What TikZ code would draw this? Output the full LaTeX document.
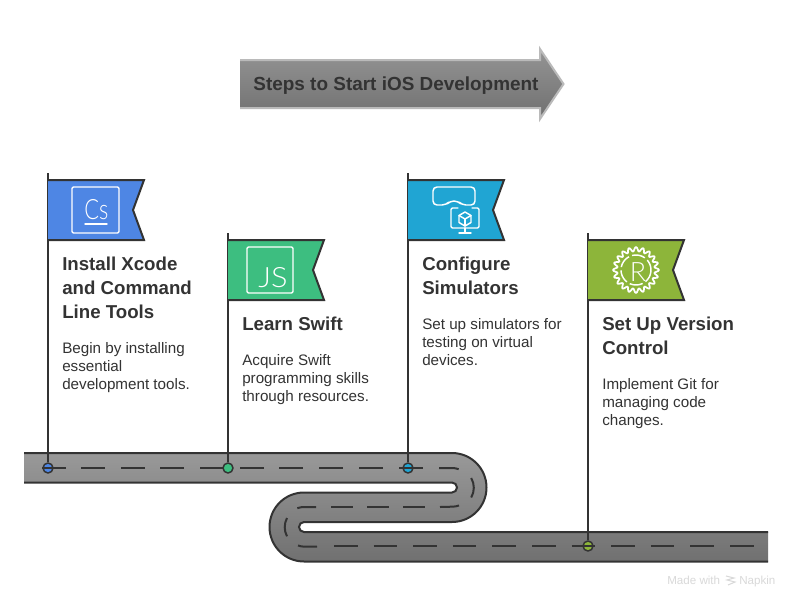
\documentclass[tikz,border=0pt]{standalone}
\usepackage{fontspec}
\setmainfont{Liberation Sans}
\newfontfamily\iconfont{Lato Light}
\usetikzlibrary{arrows.meta,positioning}

\definecolor{inkdark}{HTML}{333333}
\definecolor{flagblue}{HTML}{4E86E4}
\definecolor{flaggreen}{HTML}{3DBE80}
\definecolor{flagcyan}{HTML}{20A5D3}
\definecolor{flagolive}{HTML}{8DB53A}

\begin{document}
\begin{tikzpicture}[x=0.75pt,y=-0.75pt]
	\tikzstyle{pole}=[draw=inkdark,line width=1.5pt]
	\tikzstyle{flagedge}=[draw=inkdark,line width=1.5pt,line join=miter]
	\tikzstyle{iconline}=[draw=white,line width=1.1pt,line join=round,line cap=round,rounded corners=1pt]
	\tikzstyle{icontext}=[text=white,inner sep=0pt,font=\iconfont\fontsize{21pt}{21pt}\selectfont]
	\tikzstyle{roadpin}=[circle,draw=inkdark,line width=1.1pt,minimum size=7.5pt,inner sep=0pt]
	\tikzstyle{lane}=[draw=inkdark,line width=1.5pt]
	\tikzstyle{heading}=[anchor=north west,inner sep=0pt,align=left,text=inkdark,font=\bfseries\fontsize{14pt}{18pt}\selectfont]
	\tikzstyle{body}=[anchor=north west,inner sep=0pt,align=left,text=inkdark,font=\fontsize{11.4pt}{13.5pt}\selectfont]
	\tikzstyle{footmark}=[text=black!15,inner sep=0pt,anchor=base west,font=\fontsize{8.7pt}{10pt}\selectfont]

	\useasboundingbox (0,0) rectangle (792,600);
	\fill[white] (0,0) rectangle (792,600);

	\shade[top color=black!42,bottom color=black!56] (240,60) -- (540,60) -- (540,49) -- (563.5,84) -- (540,119) -- (540,108) -- (240,108) -- cycle;
	\draw[draw=black!27,line width=1.5pt] (240,60) -- (540,60) -- (540,49) -- (563.5,84) -- (540,119) -- (540,108) -- (240,108);
	\node[text=inkdark,inner sep=0pt,font=\bfseries\fontsize{14.2pt}{16pt}\selectfont] (title) at (396,85.5) {Steps to Start iOS Development};

	\def\roadupper{(24,453) -- (452,453) arc[start angle=-90,end angle=90,radius=34.5] -- (304,522) arc[start angle=270,end angle=90,radius=5] -- (768,532)}
	\def\roadlower{(768,561.5) -- (304,561.5) arc[start angle=90,end angle=270,radius=34.5] -- (452,492.5) arc[start angle=90,end angle=-90,radius=5] -- (24,482.5)}
	\shade[top color=black!40,bottom color=black!56] (24,453) -- (452,453) arc[start angle=-90,end angle=90,radius=34.5] -- (304,522) arc[start angle=270,end angle=90,radius=5] -- (768,532) -- (768,561.5) -- (304,561.5) arc[start angle=90,end angle=270,radius=34.5] -- (452,492.5) arc[start angle=90,end angle=-90,radius=5] -- (24,482.5) -- cycle;
	\draw[draw=inkdark,line width=1.5pt] \roadupper;
	\draw[draw=inkdark,line width=1.5pt] \roadlower;

	\node[roadpin,fill=flagblue] (pinA) at (48,468) {};
	\node[roadpin,fill=flaggreen] (pinB) at (228,468) {};
	\node[roadpin,fill=flagcyan] (pinC) at (408,468) {};
	\node[roadpin,fill=flagolive] (pinD) at (588,546) {};

	\foreach \xd in {42,81,121,160,200,240,279,319,359,399}
		\draw[lane] (\xd,468) -- ++(23.5,0);
	\draw[lane] (439,468) -- (452,468) arc[start angle=-90,end angle=-70,radius=19.5];
	\draw[lane] (471.2,478) arc[start angle=-30,end angle=30,radius=19.5];
	\draw[lane] (459,505.5) arc[start angle=70,end angle=90,radius=19.5] -- (440,507);
	\foreach \xd in {403,367,331}
		\draw[lane] (\xd,507) -- ++(22,0);
	\draw[lane] (316,507) -- (304,507) arc[start angle=270,end angle=250,radius=19.5];
	\draw[lane] (287,518) arc[start angle=208,end angle=152,radius=19.5];
	\draw[lane] (298,545.5) arc[start angle=110,end angle=90,radius=19.5] -- (317,546.5);
	\foreach \xd in {334,373.6,413,452.8,492.4,532,571.6,611,650.8,690.4,730}
		\draw[lane] (\xd,546) -- ++(23.5,0);

	\coordinate (topA) at (48,173);
	\coordinate (topB) at (228,233);
	\coordinate (topC) at (408,173);
	\coordinate (topD) at (588,233);
	\draw[pole] (topA) -- (pinA);
	\draw[pole] (topB) -- (pinB);
	\draw[pole] (topC) -- (pinC);
	\draw[pole] (topD) -- (pinD);

	\fill[flagblue] (48,180) -- (144,180) -- (133,210) -- (144,240) -- (48,240) -- cycle;
	\draw[flagedge] (48,180) -- (144,180) -- (133,210) -- (144,240) -- (48,240);
	\fill[flaggreen] (228,240) -- (324,240) -- (313,270) -- (324,300) -- (228,300) -- cycle;
	\draw[flagedge] (228,240) -- (324,240) -- (313,270) -- (324,300) -- (228,300);
	\fill[flagcyan] (408,180) -- (504,180) -- (493,210) -- (504,240) -- (408,240) -- cycle;
	\draw[flagedge] (408,180) -- (504,180) -- (493,210) -- (504,240) -- (408,240);
	\fill[flagolive] (588,240) -- (684,240) -- (673,270) -- (684,300) -- (588,300) -- cycle;
	\draw[flagedge] (588,240) -- (684,240) -- (673,270) -- (684,300) -- (588,300);

	\draw[iconline] (72,187) rectangle (119,233);
	\node[icontext] (iconCs) at (96.5,210) {\scalebox{.78}[1]{Cs}};
	\draw[iconline] (85,224) -- (107,224);

	\draw[iconline] (247,247) rectangle (293,293);
	\node[icontext,anchor=base] (iconJS) at (273,287) {\scalebox{1.1}[1]{JS}};

	\draw[iconline,rounded corners=3pt] (433,187) -- (475,187) -- (475,205) -- (462,205) -- (458,201) -- (450,201) -- (446,205) -- (433,205) -- cycle;
	\draw[iconline] (458,208) -- (451,208) -- (451,228) -- (479,228) -- (479,208) -- (472,208);
	\draw[iconline] (465,228) -- (465,233);
	\draw[iconline] (459,233) -- (471,233);
	\draw[iconline,rounded corners=0pt] (465,212) -- (471,215.5) -- (471,222.5) -- (465,226) -- (459,222.5) -- (459,215.5) -- cycle;
	\draw[iconline,rounded corners=0pt] (459,215.5) -- (465,219) -- (471,215.5);
	\draw[iconline,rounded corners=0pt] (465,219) -- (465,226);

	\draw[iconline,rounded corners=0pt,line width=1.3pt,shift={(636,270)}] plot[domain=0:360,samples=161,smooth] (\x:{20.8+2.2*cos(20*\x)});
	\draw[iconline,line cap=butt,dash pattern=on 10pt off 2.5pt] (636,270) circle[radius=15];
	\node[icontext,font=\iconfont\fontsize{20pt}{20pt}\selectfont] (iconR) at (638,272) {R};

	\node[heading] (headA) at (62,256.5) {Install Xcode\\and Command\\Line Tools};
	\node[body] (bodyA) at (62,342.5) {Begin by installing\\essential\\development tools.};
	\node[heading] (headB) at (242,316.5) {Learn Swift};
	\node[body] (bodyB) at (242,354.5) {Acquire Swift\\programming skills\\through resources.};
	\node[heading] (headC) at (422,256.5) {Configure\\Simulators};
	\node[body] (bodyC) at (422,318.5) {Set up simulators for\\testing on virtual\\devices.};
	\node[heading] (headD) at (602,316.5) {Set Up Version\\Control};
	\node[body] (bodyD) at (602,378.5) {Implement Git for\\managing code\\changes.};

	\node[footmark] (madeWith) at (667,584) {Made with};
	\node[footmark] (napkin) at (739,584) {Napkin};
	\draw[draw=black!15,line width=0.8pt] (726,576) -- (734,578) -- (727,580) -- (735,582) -- (728,585);
\end{tikzpicture}
\end{document}
